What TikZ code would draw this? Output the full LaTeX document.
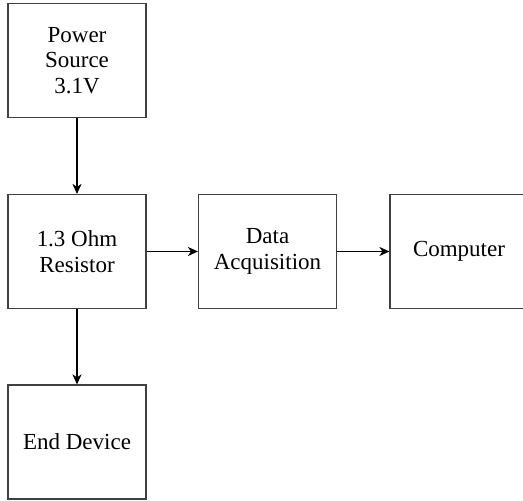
\documentclass[tikz,border=0pt]{standalone}
\usepackage{fontspec}
\setmainfont{Liberation Serif}
\usetikzlibrary{arrows.meta}
\begin{document}
\begin{tikzpicture}[x=1pt,y=1pt,
  blk/.style={draw=black!75,line width=1.1pt,minimum width=138pt,minimum height=114pt,inner sep=0pt,align=center,font=\fontsize{23}{25.5}\selectfont},
  conn/.style={line width=1.8pt,-{Stealth[length=10pt,width=9pt,inset=3pt]}}]
\useasboundingbox (0,0) rectangle (523,501);
\node[blk] (ps) at (77,440.5) {Power\\Source\\3.1V};
\node[blk] (res) at (77,249.5) {1.3 Ohm\\Resistor};
\node[blk] (daq) at (267.5,249.5) {Data\\Acquisition};
\node[blk] (pc) at (459,249.5) {Computer};
\node[blk] (end) at (77,59) {End Device};
\draw[conn] (ps) -- (res);
\draw[conn] (res) -- (daq);
\draw[conn] (daq) -- (pc);
\draw[conn] (res) -- (end);
\end{tikzpicture}
\end{document}
